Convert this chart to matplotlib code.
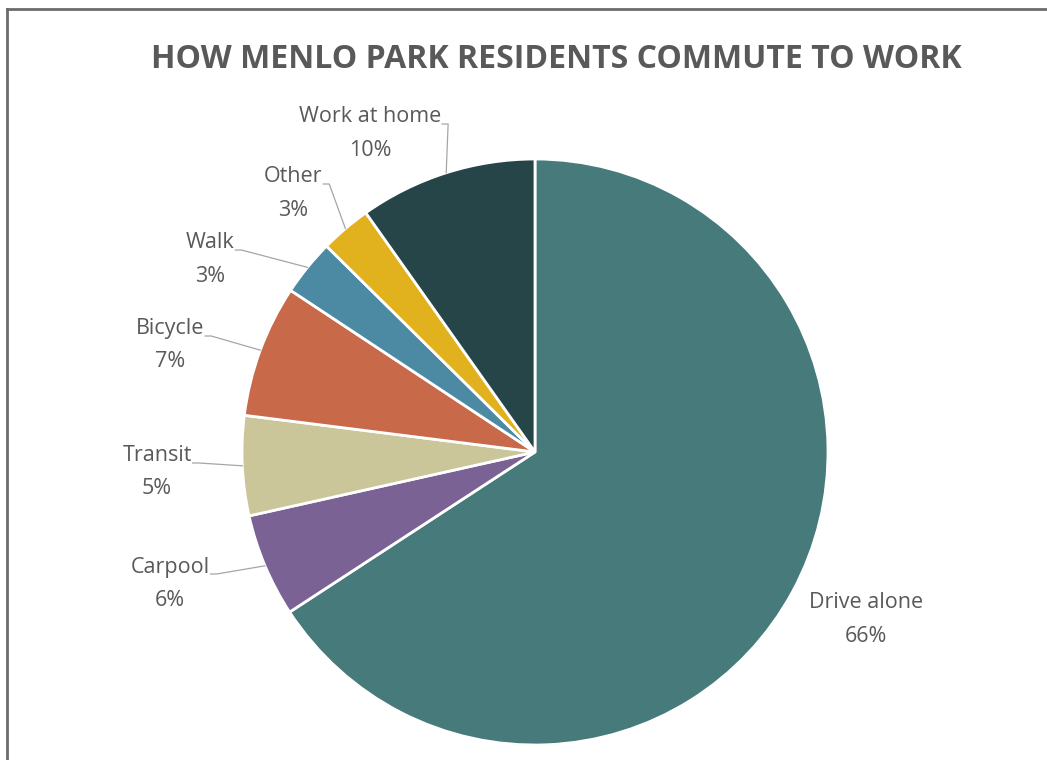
import numpy as np
import matplotlib
matplotlib.use("Agg")
from matplotlib import pyplot as plt
from matplotlib.lines import Line2D

# Commute mode shares (clockwise from 12 o'clock)
modes = ["Drive alone", "Carpool", "Transit", "Bicycle", "Walk", "Other", "Work at home"]
shares = [65.8, 5.7, 5.5, 7.3, 3.1, 2.8, 9.8]
pct_labels = ["66%", "6%", "5%", "7%", "3%", "3%", "10%"]
colors = ["#477A7B", "#7A6394", "#CBC59A", "#C8694A", "#4C89A3", "#E2B21E", "#264548"]

# Label text positions in pixels (name line centre), and whether a leader line is drawn
label_px = [(866, 603), (170, 567), (157, 456), (170, 329), (210, 243), (293, 177), (370, 117)]
has_leader = [False, True, True, True, True, True, True]

W, H = 1047, 760
cx, cy, r = 535, 452, 293

plt.rcParams['font.family'] = ['Open Sans', 'DejaVu Sans']
fig = plt.figure(figsize=(W / 100, H / 100), dpi=100)
fig.patch.set_facecolor("white")

ax = fig.add_axes([(cx - r) / W, 1 - (cy + r) / H, 2 * r / W, 2 * r / H])
wedges, _ = ax.pie(shares, colors=colors, startangle=90, counterclock=False,
                   radius=1, wedgeprops=dict(edgecolor="white", linewidth=2))
ax.set_xlim(-1, 1)
ax.set_ylim(-1, 1)
ax.set_aspect("equal")
ax.axis("off")


def to_data(px, py):
    return (px - cx) / r, (cy - py) / r


text_color = "#595959"
fs = 15.5
for w, name, pct, (px, py), lead in zip(wedges, modes, pct_labels, label_px, has_leader):
    tx, ty = to_data(px, py)
    t = ax.text(tx, ty, name, ha="center", va="center", fontsize=fs, color=text_color)
    ax.text(tx, ty - 33 / r, pct, ha="center", va="center", fontsize=fs, color=text_color)
    if lead:
        # leader runs from the end of the name to the wedge's mid-angle on the rim
        mid = np.deg2rad((w.theta1 + w.theta2) / 2)
        ex, ey = np.cos(mid), np.sin(mid)
        fig.canvas.draw()
        bb = t.get_window_extent()
        rx = (bb.x1 + 1 - cx) / r
        ry = ty - 7 / r
        ax.add_line(Line2D([rx, rx + 6 / r, ex], [ry, ry, ey], color="#A6A6A6",
                           lw=0.9, clip_on=False))

fig.text(556 / W, 1 - 59 / H, "HOW MENLO PARK RESIDENTS COMMUTE TO WORK",
         ha="center", va="center", fontsize=23, fontweight="bold", color=text_color)

# Frame lines (top and left)
fig.add_artist(Line2D([7 / W, 1], [1 - 9 / H, 1 - 9 / H], transform=fig.transFigure,
                      color="#6B6B6E", lw=2))
fig.add_artist(Line2D([7 / W, 7 / W], [0, 1 - 9 / H], transform=fig.transFigure,
                      color="#6B6B6E", lw=2))

fig.savefig("out.png", dpi=100)
